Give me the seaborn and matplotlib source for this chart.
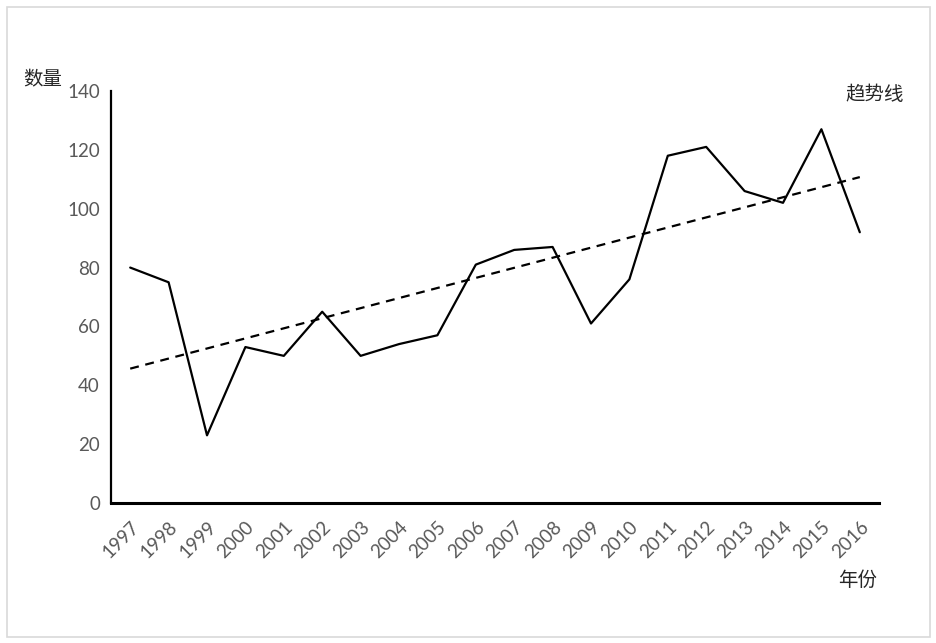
import numpy as np
import pandas as pd
import seaborn as sns
import matplotlib.pyplot as plt
from matplotlib.patches import Rectangle

years = ['1997', '1998', '1999', '2000', '2001', '2002', '2003', '2004', '2005', '2006',
         '2007', '2008', '2009', '2010', '2011', '2012', '2013', '2014', '2015', '2016']
counts = [80, 75, 23, 53, 50, 65, 50, 54, 57, 81,
          86, 87, 61, 76, 118, 121, 106, 102, 127, 92]

sns.set_style('white')
plt.rcParams['font.family'] = ['Lato', 'Noto Sans CJK SC', 'DejaVu Sans']

df = pd.DataFrame({'年份': years, '数量': counts})
df['idx'] = np.arange(len(years))

# linear trend line (least squares), like Excel
slope, intercept = np.polyfit(df['idx'], df['数量'], 1)
df['趋势'] = slope * df['idx'] + intercept

fig = plt.figure(figsize=(9.36, 6.43), dpi=100)
ax = fig.add_axes([0.1186, 0.2177, 0.8205, 0.6408])

sns.lineplot(data=df, x='idx', y='数量', color='black', linewidth=1.6, ax=ax)
sns.lineplot(data=df, x='idx', y='趋势', color='black', linewidth=1.6,
             linestyle=(0, (4, 3)), ax=ax)

ax.set_xlim(-0.5, len(years) - 0.5)
ax.set_ylim(0, 140)
ax.set_yticks(range(0, 141, 20))
ax.set_xticks(df['idx'])
ax.set_xticklabels(years, rotation=45, ha='right', rotation_mode='anchor')
ax.tick_params(axis='both', length=0, labelsize=13.5, colors='#595959', pad=8)
ax.tick_params(axis='x', pad=11)
ax.set_xlabel('')
ax.set_ylabel('')

sns.despine(ax=ax)
ax.spines['left'].set_linewidth(1.6)
ax.spines['bottom'].set_linewidth(2.2)
ax.spines['left'].set_color('black')
ax.spines['bottom'].set_color('black')

cjk = ['Noto Sans CJK SC', 'DejaVu Sans']
fig.text(23 / 936, 1 - 80 / 643, '数量', fontsize=14, va='center', ha='left', family=cjk)
fig.text(904 / 936, 1 - 95 / 643, '趋势线', fontsize=14, va='center', ha='right', family=cjk)
fig.text(877 / 936, 1 - 580 / 643, '年份', fontsize=14, va='center', ha='right', family=cjk)

# light chart border
fig.patches.append(Rectangle((7 / 936, 6 / 643), 923 / 936, 630 / 643,
                             transform=fig.transFigure, fill=False,
                             edgecolor='#d9d9d9', linewidth=1.2))

fig.savefig('out.png', dpi=100)
